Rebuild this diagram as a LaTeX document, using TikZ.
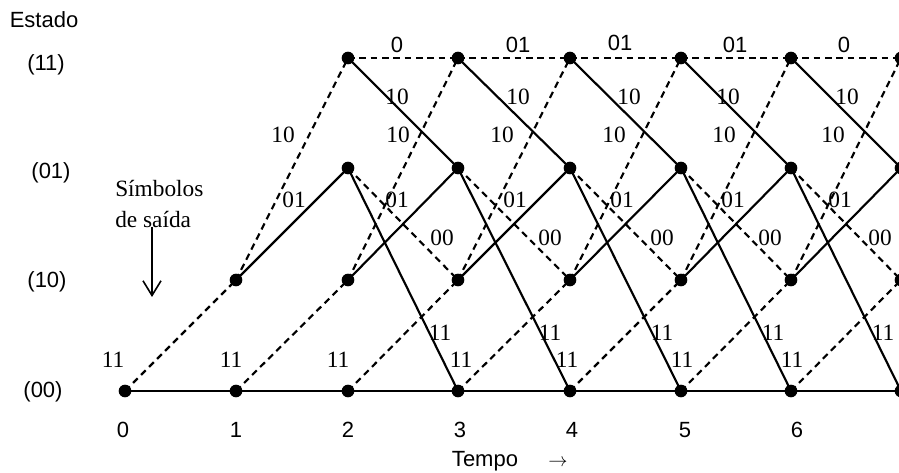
\documentclass[tikz,border=0pt]{standalone}
\usepackage{fontspec}
\setmainfont{Liberation Serif}
\setsansfont{Liberation Sans}
\usetikzlibrary{arrows.meta}
\begin{document}
\begin{tikzpicture}[x=0.75pt,y=-0.75pt,
  dot/.style={circle,fill=black,inner sep=0pt,minimum size=9.5pt},
  solidedge/.style={line width=1.6pt},
  dashedge/.style={line width=1.6pt,dash pattern=on 5pt off 3.5pt},
  lab/.style={font=\fontsize{17.5}{19}\selectfont,inner sep=0pt},
  slab/.style={font=\sffamily\fontsize{16.5}{18}\selectfont,inner sep=0pt}]
\useasboundingbox (0,0) rectangle (899,473);
\clip (0,0) rectangle (899,473);
% state coordinates: a=00, b=10, c=01, d=11
\foreach \t/\x in {0/125,1/236,2/348,3/458,4/570,5/681,6/791,7/901} {
  \coordinate (a\t) at (\x,391);
  \coordinate (b\t) at (\x,280);
  \coordinate (c\t) at (\x,168);
  \coordinate (d\t) at (\x,58);
}
% edges
\foreach \t in {0,...,6} {
  \pgfmathtruncatemacro{\n}{\t+1}
  \draw[solidedge] (a\t) -- (a\n);
  \draw[dashedge] (a\t) -- (b\n);
}
\foreach \t in {1,...,6} {
  \pgfmathtruncatemacro{\n}{\t+1}
  \draw[solidedge] (b\t) -- (c\n);
  \draw[dashedge] (b\t) -- (d\n);
}
\foreach \t in {2,...,6} {
  \pgfmathtruncatemacro{\n}{\t+1}
  \draw[solidedge] (c\t) -- (a\n);
  \draw[dashedge] (c\t) -- (b\n);
  \draw[solidedge] (d\t) -- (c\n);
  \draw[dashedge] (d\t) -- (d\n);
}
% dots
\node[dot] (na0) at (a0) {};
\node[dot] (na1) at (a1) {};
\node[dot] (nb1) at (b1) {};
\foreach \t in {2,...,7} {
  \node[dot] (na\t) at (a\t) {};
  \node[dot] (nb\t) at (b\t) {};
  \node[dot] (nc\t) at (c\t) {};
  \node[dot] (nd\t) at (d\t) {};
}
% top labels
\foreach \x/\y/\s in {397/45/0,518/45/01,620/43/01,735/45/01,844/45/0}
  \node[slab] at (\x,\y) {\s};
% serif labels
\foreach \x in {397,518,629,728,847} \node[lab] at (\x,97) {10};
\foreach \x in {283,398,502,614,724,833} \node[lab] at (\x,135) {10};
\foreach \x in {294,397,515,622,733,840} \node[lab] at (\x,200) {01};
\foreach \x in {442,550,662,770,880} \node[lab] at (\x,238) {00};
\foreach \x in {440,550,662,773,883} \node[lab] at (\x,333) {11};
\foreach \x in {113,231,338,461,567,682,792} \node[lab] at (\x,360) {11};
% state labels
\node[slab] (e) at (44,20) {Estado};
\node[slab] (s11) at (46,65) {(11)};
\node[slab] (s01) at (51,173) {(01)};
\node[slab] (s10) at (47,282) {(10)};
\node[slab] (s00) at (43,392) {(00)};
% output symbols note
\node[lab,align=left,anchor=west,font=\fontsize{17.5}{23}\selectfont] (sym) at (115,204) {Símbolos\\de saída};
\coordinate (arrtop) at (152,227);
\coordinate (arrbot) at (152,297);
\draw[line width=1.2pt,-{Straight Barb[length=11pt,width=13.5pt,line width=1.2pt]}] (arrtop) -- (arrbot);
% time labels
\foreach \x/\s in {123/0,236/1,348/2,460/3,572/4,685/5,797/6}
  \node[slab] at (\x,430) {\s};
\node[slab] (tempo) at (485,461) {Tempo};
\node[inner sep=0pt,font=\fontsize{15}{18}\selectfont] (tarr) at (558,463) {$\rightarrow$};
\end{tikzpicture}
\end{document}
